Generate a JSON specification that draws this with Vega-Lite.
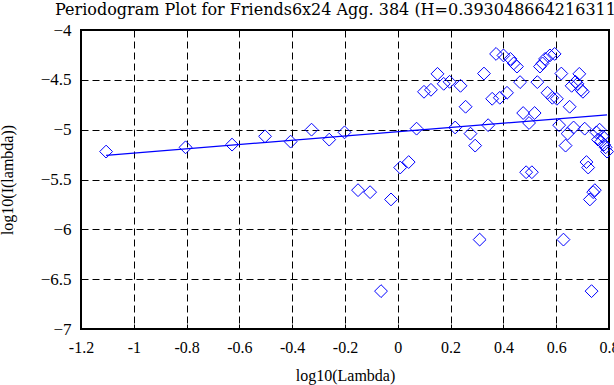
{
  "$schema": "https://vega.github.io/schema/vega-lite/v6.json",
  "autosize": {"type": "none"},
  "width": 528,
  "height": 299,
  "padding": {"left": 81, "top": 30, "right": 5, "bottom": 56},
  "background": "white",
  "title": {
    "text": "Periodogram Plot for Friends6x24 Agg. 384 (H=0.393048664216311)",
    "anchor": "start",
    "frame": "group",
    "dx": -26,
    "dy": 12,
    "offset": 2,
    "baseline": "alphabetic",
    "font": "DejaVu Serif",
    "fontSize": 16,
    "fontWeight": "normal",
    "color": "black"
  },
  "config": {
    "view": {"stroke": "black", "strokeWidth": 2}
  },
  "datasets": {
    "pts": [
      {"x": -1.10491, "y": -5.22},
      {"x": -0.80388, "y": -5.177},
      {"x": -0.62779, "y": -5.15},
      {"x": -0.50285, "y": -5.067},
      {"x": -0.40594, "y": -5.12},
      {"x": -0.32676, "y": -5.0},
      {"x": -0.25981, "y": -5.1},
      {"x": -0.20182, "y": -5.027},
      {"x": -0.15067, "y": -5.607},
      {"x": -0.10491, "y": -5.627},
      {"x": -0.06352, "y": -6.62},
      {"x": -0.02573, "y": -5.7},
      {"x": 0.00903, "y": -5.38},
      {"x": 0.04122, "y": -5.325},
      {"x": 0.07118, "y": -4.99},
      {"x": 0.09921, "y": -4.62},
      {"x": 0.12554, "y": -4.6},
      {"x": 0.15036, "y": -4.44},
      {"x": 0.17384, "y": -4.54},
      {"x": 0.19612, "y": -4.52},
      {"x": 0.21731, "y": -4.978},
      {"x": 0.23751, "y": -4.56},
      {"x": 0.25682, "y": -4.77},
      {"x": 0.2753, "y": -5.04},
      {"x": 0.29303, "y": -5.16},
      {"x": 0.31006, "y": -6.103},
      {"x": 0.32645, "y": -4.437},
      {"x": 0.34225, "y": -4.955},
      {"x": 0.35749, "y": -4.69},
      {"x": 0.37221, "y": -4.24},
      {"x": 0.38645, "y": -4.68},
      {"x": 0.40024, "y": -4.255},
      {"x": 0.4136, "y": -4.63},
      {"x": 0.42657, "y": -4.29},
      {"x": 0.43916, "y": -4.335},
      {"x": 0.45139, "y": -4.367},
      {"x": 0.46329, "y": -4.523},
      {"x": 0.47487, "y": -4.833},
      {"x": 0.48615, "y": -5.427},
      {"x": 0.49715, "y": -4.933},
      {"x": 0.50787, "y": -5.427},
      {"x": 0.51834, "y": -4.833},
      {"x": 0.52856, "y": -4.523},
      {"x": 0.53854, "y": -4.367},
      {"x": 0.5483, "y": -4.335},
      {"x": 0.55785, "y": -4.29},
      {"x": 0.56719, "y": -4.63},
      {"x": 0.57633, "y": -4.255},
      {"x": 0.58529, "y": -4.68},
      {"x": 0.59406, "y": -4.24},
      {"x": 0.60266, "y": -4.69},
      {"x": 0.61109, "y": -4.955},
      {"x": 0.61937, "y": -4.437},
      {"x": 0.62748, "y": -6.103},
      {"x": 0.63545, "y": -5.16},
      {"x": 0.64328, "y": -5.04},
      {"x": 0.65096, "y": -4.77},
      {"x": 0.65852, "y": -4.56},
      {"x": 0.66594, "y": -4.978},
      {"x": 0.67324, "y": -4.52},
      {"x": 0.68042, "y": -4.54},
      {"x": 0.68748, "y": -4.44},
      {"x": 0.69443, "y": -4.6},
      {"x": 0.70127, "y": -4.62},
      {"x": 0.708, "y": -4.99},
      {"x": 0.71463, "y": -5.325},
      {"x": 0.72116, "y": -5.38},
      {"x": 0.7276, "y": -5.7},
      {"x": 0.73394, "y": -6.62},
      {"x": 0.74019, "y": -5.627},
      {"x": 0.74635, "y": -5.607},
      {"x": 0.75242, "y": -5.027},
      {"x": 0.75841, "y": -5.1},
      {"x": 0.76432, "y": -5.0},
      {"x": 0.77015, "y": -5.12},
      {"x": 0.7759, "y": -5.067},
      {"x": 0.78158, "y": -5.15},
      {"x": 0.78718, "y": -5.177},
      {"x": 0.79272, "y": -5.22}
    ],
    "fit": [
      {"x": -1.10491, "y": -5.257},
      {"x": 0.79272, "y": -4.851}
    ]
  },
  "layer": [
    {
      "data": {"name": "pts"},
      "mark": {"type": "point", "shape": "diamond", "filled": false, "color": "#0000ff", "size": 165, "strokeWidth": 1, "opacity": 1},
      "encoding": {
        "x": {
          "field": "x", "type": "quantitative",
          "scale": {"domain": [-1.2, 0.8], "nice": false, "zero": false},
          "axis": {
            "orient": "bottom",
            "values": [-1.2, -1, -0.8, -0.6, -0.4, -0.2, 0, 0.2, 0.4, 0.6, 0.8],
            "format": "~g",
            "labelExpr": "replace(datum.label, '−', '-')",
            "title": "log10(Lambda)",
            "grid": true, "gridDash": [7, 4], "gridColor": "black", "gridOpacity": 1, "gridWidth": 1,
            "domain": false,
            "ticks": true, "tickSize": -5, "tickColor": "black", "tickWidth": 1,
            "labelPadding": 15, "labelFlush": false, "labelOverlap": false,
            "labelFont": "Liberation Serif", "labelFontSize": 16, "labelColor": "black",
            "titleFont": "Liberation Serif", "titleFontSize": 16, "titleFontWeight": "normal", "titleColor": "black",
            "titlePadding": 12
          }
        },
        "y": {
          "field": "y", "type": "quantitative",
          "scale": {"domain": [-7, -4], "nice": false, "zero": false},
          "axis": {
            "orient": "left",
            "values": [-7, -6.5, -6, -5.5, -5, -4.5, -4],
            "format": "~g",
            "title": "log10(I(lambda))",
            "grid": true, "gridDash": [7, 4], "gridColor": "black", "gridOpacity": 1, "gridWidth": 1,
            "domain": false,
            "ticks": true, "tickSize": -5, "tickColor": "black", "tickWidth": 1,
            "labelPadding": 15, "labelFlush": false, "labelOverlap": false,
            "labelFont": "Liberation Serif", "labelFontSize": 17, "labelColor": "black",
            "titleFont": "Liberation Serif", "titleFontSize": 16, "titleFontWeight": "normal", "titleColor": "black",
            "titlePadding": 25
          }
        }
      }
    },
    {
      "data": {"name": "fit"},
      "mark": {"type": "line", "color": "#0000ff", "strokeWidth": 1.3},
      "encoding": {
        "x": {
          "field": "x", "type": "quantitative",
          "axis": {
            "orient": "top",
            "values": [-1.2, -1, -0.8, -0.6, -0.4, -0.2, 0, 0.2, 0.4, 0.6, 0.8],
            "labels": false, "title": null, "grid": false, "domain": false,
            "ticks": true, "tickSize": -5, "tickColor": "black", "tickWidth": 1
          }
        },
        "y": {
          "field": "y", "type": "quantitative",
          "axis": {
            "orient": "right",
            "values": [-7, -6.5, -6, -5.5, -5, -4.5, -4],
            "labels": false, "title": null, "grid": false, "domain": false,
            "ticks": true, "tickSize": -5, "tickColor": "black", "tickWidth": 1
          }
        }
      }
    }
  ],
  "resolve": {"axis": {"x": "independent", "y": "independent"}}
}
